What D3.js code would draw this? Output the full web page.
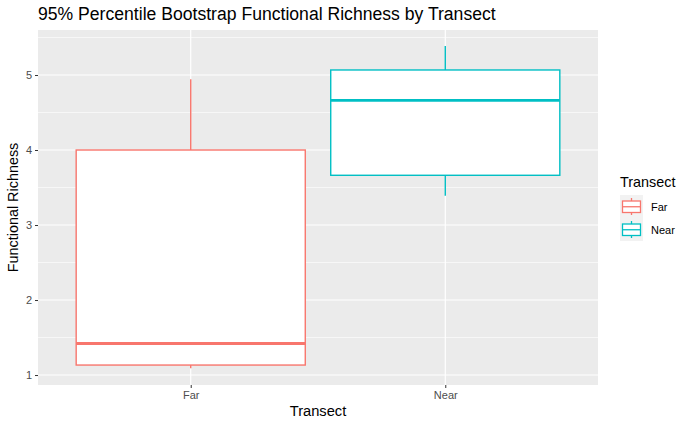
<!DOCTYPE html>
<html><head><meta charset="utf-8">
<script src="https://cdn.jsdelivr.net/npm/d3@7"></script>
<style>body{margin:0;background:#fff}text{font-family:"Liberation Sans",Arial,Helvetica,sans-serif}</style>
</head><body><svg id="c" width="692" height="427"></svg>
<script>
const categories = ["Far", "Near"];
const colors = ["#F8766D", "#00BFC4"];
const whiskerLow = [1.09, 3.39];
const q1 = [1.133, 3.663];
const median = [1.42, 4.663];
const q3 = [4.0, 5.067];
const whiskerHigh = [4.943, 5.387];
const yTicks = [1, 2, 3, 4, 5];
const yMinor = [1.5, 2.5, 3.5, 4.5, 5.5];

const svg = d3.select("#c");
const L = 38, R = 598, T = 30, B = 385;
const x = d3.scalePoint().domain(categories).range([L, R]).padding(0.6);
const step = x.step();
const y = d3.scaleLinear().domain([0.867, 5.6]).range([B, T]);

svg.append("rect").attr("x", L).attr("y", T).attr("width", R - L).attr("height", B - T).attr("fill", "#EBEBEB");
const g = svg.append("g");
yMinor.forEach(v => g.append("line").attr("x1", L).attr("x2", R).attr("y1", y(v)).attr("y2", y(v)).attr("stroke", "#fff").attr("stroke-width", 0.6));
yTicks.forEach(v => g.append("line").attr("x1", L).attr("x2", R).attr("y1", y(v)).attr("y2", y(v)).attr("stroke", "#fff").attr("stroke-width", 1.2));
categories.forEach(c => g.append("line").attr("x1", x(c)).attr("x2", x(c)).attr("y1", T).attr("y2", B).attr("stroke", "#fff").attr("stroke-width", 1.2));

// boxes
const bw = step * 0.9;
categories.forEach((c, i) => {
  const cx = x(c), col = colors[i];
  const bg = svg.append("g");
  bg.append("line").attr("x1", cx).attr("x2", cx).attr("y1", y(q3[i])).attr("y2", y(whiskerHigh[i])).attr("stroke", col).attr("stroke-width", 1.4);
  bg.append("line").attr("x1", cx).attr("x2", cx).attr("y1", y(q1[i])).attr("y2", y(whiskerLow[i])).attr("stroke", col).attr("stroke-width", 1.4);
  bg.append("rect").attr("x", cx - bw / 2).attr("y", y(q3[i])).attr("width", bw).attr("height", y(q1[i]) - y(q3[i]))
    .attr("fill", "#fff").attr("stroke", col).attr("stroke-width", 1.4);
  bg.append("line").attr("x1", cx - bw / 2).attr("x2", cx + bw / 2).attr("y1", y(median[i])).attr("y2", y(median[i])).attr("stroke", col).attr("stroke-width", 2.8);
});

// axes
const ya = svg.append("g").attr("transform", `translate(${L},0)`)
  .call(d3.axisLeft(y).tickValues(yTicks).tickSize(3).tickPadding(3).tickFormat(d3.format("d")));
const xa = svg.append("g").attr("transform", `translate(0,${B})`)
  .call(d3.axisBottom(x).tickSize(3).tickPadding(3));
[ya, xa].forEach(a => {
  a.select(".domain").remove();
  a.selectAll(".tick line").attr("stroke", "#333").attr("stroke-width", 1);
  a.selectAll(".tick text").attr("fill", "#4D4D4D").style("font-size", "11px").style("font-family", '"Liberation Sans",Arial,sans-serif');
});

svg.append("text").attr("x", 38).attr("y", 20).attr("font-size", 17.6).attr("fill", "#000")
  .text("95% Percentile Bootstrap Functional Richness by Transect");
svg.append("text").attr("x", (L + R) / 2).attr("y", 416).attr("text-anchor", "middle").attr("font-size", 14.7).text("Transect");
svg.append("text").attr("transform", `translate(18,${(T + B) / 2}) rotate(-90)`).attr("text-anchor", "middle").attr("font-size", 14.4).text("Functional Richness");

// legend
const lg = svg.append("g");
lg.append("text").attr("x", 620).attr("y", 187).attr("font-size", 14.4).text("Transect");
categories.forEach((c, i) => {
  const ky = 195 + i * 23, col = colors[i], cx = 631.5;
  lg.append("rect").attr("x", 620).attr("y", ky).attr("width", 23).attr("height", 23).attr("fill", "#F2F2F2");
  lg.append("line").attr("x1", cx).attr("x2", cx).attr("y1", ky + 3).attr("y2", ky + 20).attr("stroke", col).attr("stroke-width", 1.3);
  lg.append("rect").attr("x", 622.5).attr("y", ky + 6).attr("width", 18).attr("height", 11.5).attr("fill", "#fff").attr("stroke", col).attr("stroke-width", 1.3);
  lg.append("line").attr("x1", 622.5).attr("x2", 640.5).attr("y1", ky + 11.75).attr("y2", ky + 11.75).attr("stroke", col).attr("stroke-width", 1.3);
  lg.append("text").attr("x", 651).attr("y", ky + 15.5).attr("font-size", 11).text(c);
});
</script></body></html>
